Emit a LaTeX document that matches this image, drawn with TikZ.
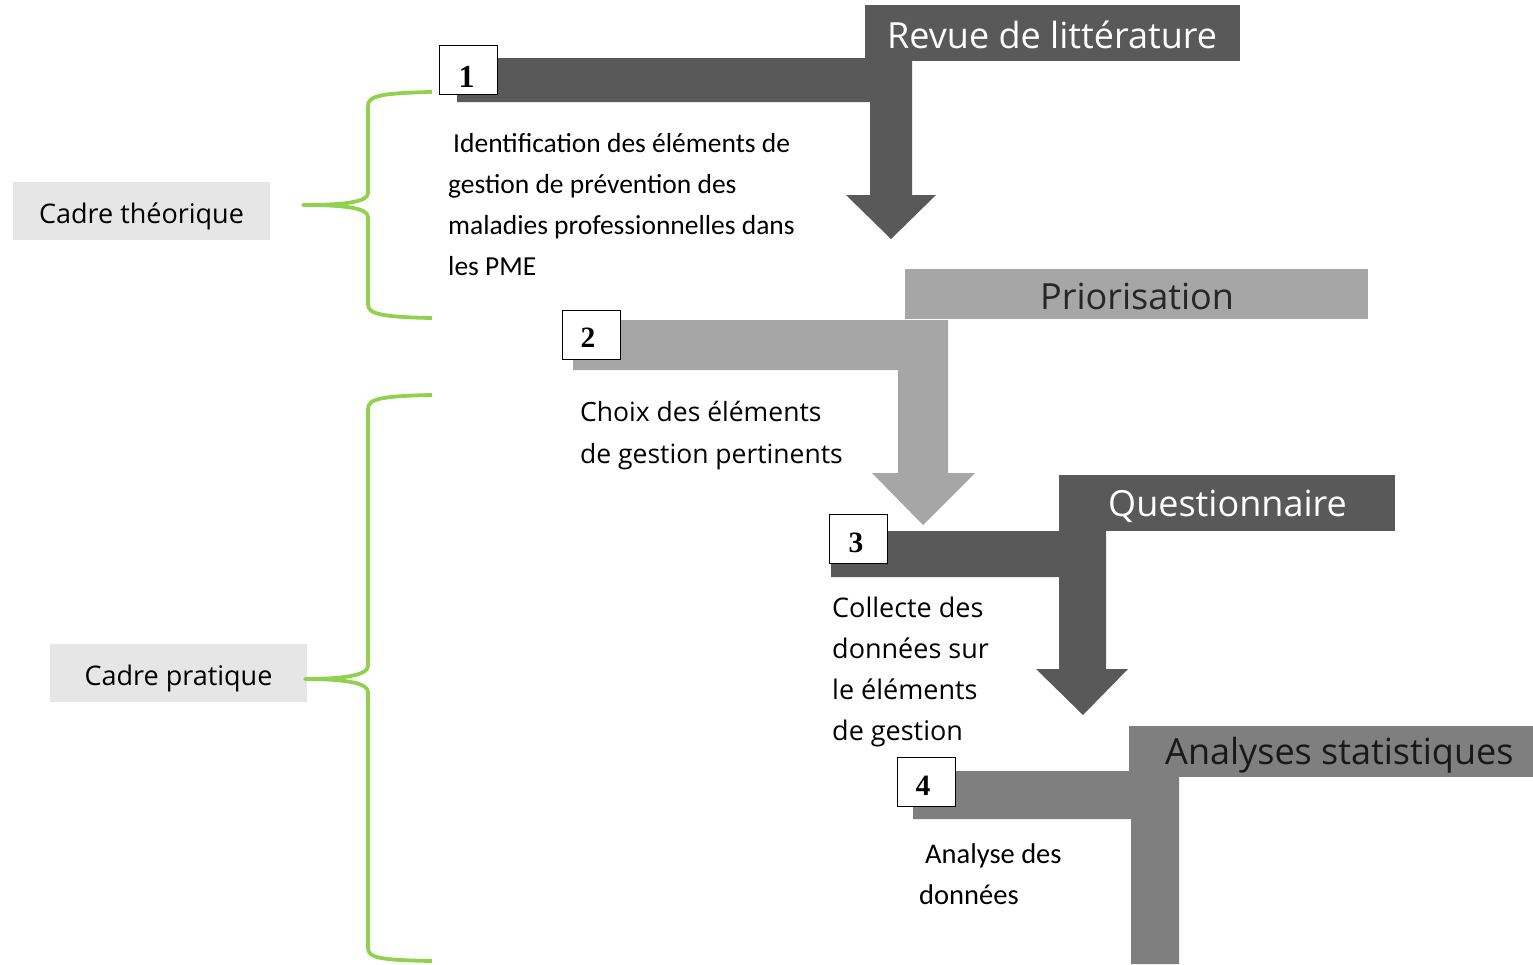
\documentclass[tikz,border=0pt]{standalone}
\usepackage{fontspec}
\setmainfont{Open Sans}
\newfontfamily\segfont{Open Sans}
\newfontfamily\calfont{Carlito}
\newfontfamily\tmsfont{Liberation Serif}
\definecolor{dk}{HTML}{595959}
\definecolor{lt}{HTML}{A6A6A6}
\definecolor{md}{HTML}{7F7F7F}
\definecolor{grn}{HTML}{92D050}
\definecolor{cbox}{HTML}{E6E6E6}
\tikzset{
  numbox/.style={draw=black,line width=0.8pt,fill=white,minimum width=58pt,minimum height=49pt,inner sep=0pt,font=\tmsfont\bfseries\fontsize{29.5}{32}\selectfont},
  labeltext/.style={anchor=west,inner sep=0pt,font=\segfont\fontsize{36}{40}\selectfont},
  cadre/.style={fill=cbox,inner sep=0pt,minimum width=257pt,minimum height=58pt,font=\segfont\fontsize{27}{30}\selectfont},
  brace/.style={draw=grn,line width=3.8pt,line join=round},
  desc/.style={anchor=base west,inner sep=0pt}
}
\begin{document}
\begin{tikzpicture}[x=1pt,y=-1pt]
\useasboundingbox (0,0) rectangle (1533,964);
% arrow 1
\fill[dk] (457,58) -- (912,58) -- (912,195) -- (936,195) -- (891,239) -- (846,195) -- (870,195) -- (870,102) -- (457,102) -- cycle;
\fill[dk] (865,5) rectangle (1240,61);
\node[labeltext,text=white] (t1) at (887,35) {Revue de littérature};
% arrow 2
\fill[lt] (573,320) -- (948,320) -- (948,473) -- (975,473) -- (923,525) -- (872,473) -- (898,473) -- (898,370) -- (573,370) -- cycle;
\fill[lt] (905,269) rectangle (1368,319);
\node[labeltext,text=black!85] (t2) at (1040,296) {Priorisation};
% arrow 3
\fill[dk] (831,531) -- (1106,531) -- (1106,669) -- (1128,669) -- (1083,715) -- (1036,669) -- (1059,669) -- (1059,577) -- (831,577) -- cycle;
\fill[dk] (1059,475) rectangle (1395,531);
\node[labeltext,text=white] (t3) at (1108,506) {Questionnaire};
% arrow 4
\fill[md] (913,771) -- (1179,771) -- (1179,964) -- (1131,964) -- (1131,819) -- (913,819) -- cycle;
\fill[md] (1129,726) rectangle (1533,777);
\node[labeltext,text=black!90] (t4) at (1165,755) {Analyses statistiques};
% number boxes
\node[numbox] (n1) at (468,70) {\smash{\raisebox{-17pt}{\fontsize{32}{34}\selectfont 1}\kern3pt}};
\node[numbox] (n2) at (591,335) {\smash{\raisebox{-12.5pt}{2}\kern6pt}};
\node[numbox] (n3) at (858.5,539) {\smash{\raisebox{-13pt}{3}\kern5pt}};
\node[numbox] (n4) at (926,782) {\smash{\raisebox{-13pt}{4}\kern6pt}};
% descriptions
\node[desc] (d1) at (448,152) {\calfont\fontsize{27.5}{41}\selectfont\begin{tabular}[t]{@{}l@{}}\hspace{5pt}Identification des éléments de\\gestion de prévention des\\maladies professionnelles dans\\les PME\end{tabular}};
\node[desc] (d2) at (580,421) {\segfont\fontsize{26.5}{42}\selectfont\begin{tabular}[t]{@{}l@{}}Choix des éléments\\de gestion pertinents\end{tabular}};
\node[desc] (d3) at (832,617) {\segfont\fontsize{27}{41}\selectfont\begin{tabular}[t]{@{}l@{}}Collecte des\\données sur\\le éléments\\de gestion\end{tabular}};
\node[desc] (d4) at (919,863) {\calfont\fontsize{28.5}{41}\selectfont\begin{tabular}[t]{@{}l@{}}\hspace{6pt}Analyse des\\données\end{tabular}};
% cadre boxes
\node[cadre] (c1) at (141.5,211) {\smash{\raisebox{-12pt}{Cadre théorique}}};
\node[cadre] (c2) at (178.5,673) {\smash{\raisebox{-12pt}{Cadre pratique}}};
% braces
\coordinate (b1t) at (432,92);
\coordinate (b1b) at (432,318);
\coordinate (b2t) at (432,395);
\coordinate (b2b) at (432,961);
\draw[brace] (b1t) .. controls (380,93) and (368,96) .. (368,106) -- (368,193) .. controls (368,202) and (345,205) .. (303,205) .. controls (345,205) and (368,208) .. (368,217) -- (368,304) .. controls (368,314) and (380,317) .. (b1b);
\draw[brace] (b2t) .. controls (380,396) and (368,399) .. (368,409) -- (368,666) .. controls (368,675) and (345,679) .. (305,679) .. controls (345,679) and (368,683) .. (368,692) -- (368,948) .. controls (368,958) and (380,960) .. (b2b);
\end{tikzpicture}
\end{document}
